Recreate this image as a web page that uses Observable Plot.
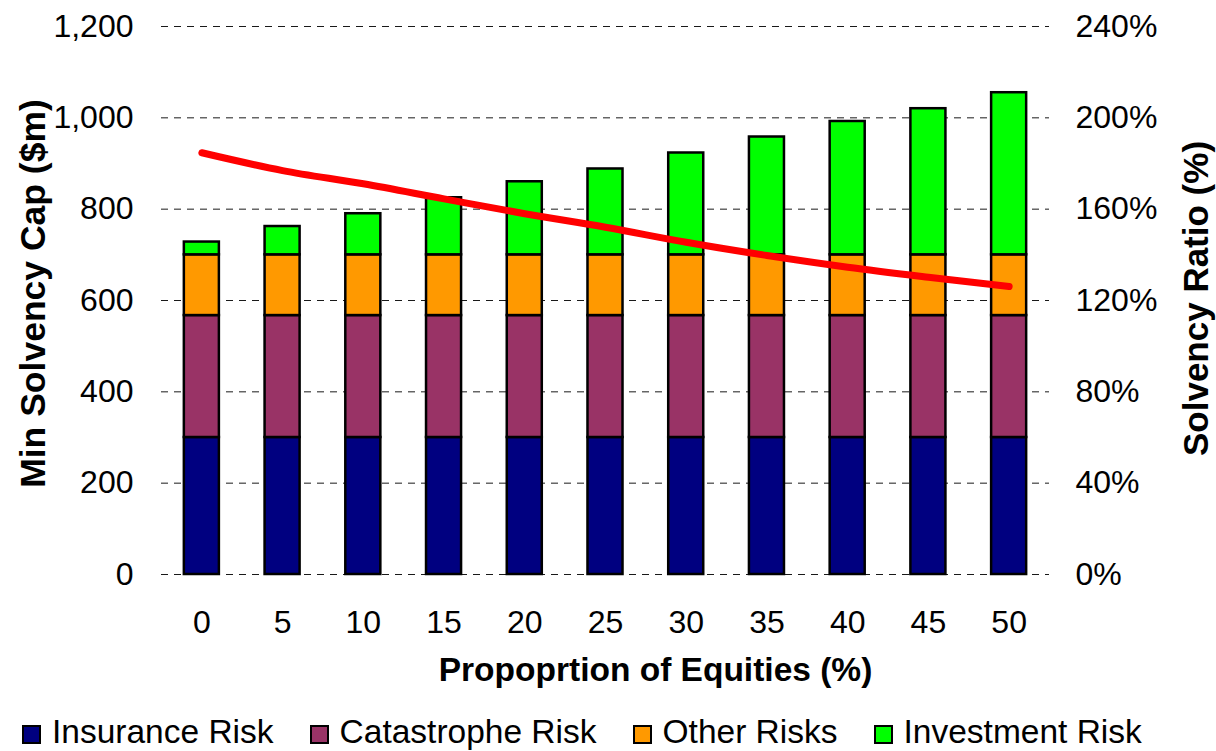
<!DOCTYPE html>
<html>
<head>
<meta charset="utf-8">
<script src="https://cdn.jsdelivr.net/npm/d3@7"></script>
<script src="https://cdn.jsdelivr.net/npm/@observablehq/plot@0.6"></script>
<style>
  html, body { margin: 0; padding: 0; background: #fff; }
  #wrap { position: relative; width: 1216px; height: 751px; font-family: "Liberation Sans", Arial, sans-serif; }
  #legend { position: absolute; left: 22px; top: 715px; display: flex; align-items: flex-start; font-size: 33.5px; line-height: 33px; color: #000; white-space: nowrap; }
  #legend .item { display: flex; align-items: flex-start; margin-right: 36px; }
  #legend .sw { width: 15px; height: 15px; border: 2.5px solid #000; margin-top: 10px; margin-right: 11px; }
</style>
</head>
<body>
<div id="wrap">
  <div id="chart"></div>
  <div id="legend"></div>
</div>
<script>
// ---- data ----
const equities = [0, 5, 10, 15, 20, 25, 30, 35, 40, 45, 50];
const insuranceRisk   = [300, 300, 300, 300, 300, 300, 300, 300, 300, 300, 300];
const catastropheRisk = [267, 267, 267, 267, 267, 267, 267, 267, 267, 267, 267];
const otherRisks      = [133, 133, 133, 133, 133, 133, 133, 133, 133, 133, 133];
const investmentRisk  = [28, 62, 90, 125, 160, 188, 223, 258, 292, 320, 355];
const solvencyRatio   = [184.7, 176.9, 171.1, 164.5, 158.0, 152.1, 145.5, 139.7, 134.6, 130.2, 126.1];

const seriesNames  = ["Insurance Risk", "Catastrophe Risk", "Other Risks", "Investment Risk"];
const seriesColors = ["#000080", "#993366", "#FF9900", "#00FF00"];
const leftTicks  = [0, 200, 400, 600, 800, 1000, 1200];
const ratioPerUnit = 240 / 1200; // right axis 0–240% spans left axis 0–1,200

const xLabel = "Propoprtion of Equities (%)";
const yLabel = "Min Solvency Cap ($m)";
const y2Label = "Solvency Ratio (%)";

// ---- tables built from the arrays ----
const seriesArrays = [insuranceRisk, catastropheRisk, otherRisks, investmentRisk];
const bars = [];
equities.forEach((e, i) => {
  seriesNames.forEach((s, j) => bars.push({eq: String(e), series: s, value: seriesArrays[j][i]}));
});
const ratioData = equities.map((e, i) => ({eq: String(e), ratio: solvencyRatio[i]}));

const FONT = "\"Liberation Sans\", Arial, sans-serif";

const chart = Plot.plot({
  width: 1216,
  height: 705,
  marginTop: 26,
  marginBottom: 131,
  marginLeft: 161,
  marginRight: 167,
  style: {fontFamily: FONT, fontSize: "32px", color: "#000", background: "#fff"},
  x: {domain: equities.map(String), paddingInner: 0.566, paddingOuter: 0.283, align: 0.5, round: false},
  y: {domain: [0, 1200]},
  color: {domain: seriesNames, range: seriesColors},
  marks: [
    Plot.gridY(leftTicks, {stroke: "#000", strokeOpacity: 0.9, strokeWidth: 1, strokeDasharray: "7,6"}),
    Plot.barY(bars, {x: "eq", y: "value", fill: "series", order: seriesNames, stroke: "#000", strokeWidth: 2.5, inset: 0}),
    Plot.line(ratioData, {x: "eq", y: d => d.ratio / ratioPerUnit, stroke: "#FF0000", strokeWidth: 7, curve: "catmull-rom", strokeLinecap: "round", strokeLinejoin: "round"}),
    Plot.axisY(leftTicks, {anchor: "left", tickSize: 0, tickPadding: 28, tickFormat: d3.format(","), label: null}),
    Plot.axisY(leftTicks, {anchor: "right", tickSize: 0, tickPadding: 26, tickFormat: d => Math.round(d * ratioPerUnit) + "%", label: null}),
    Plot.axisX({tickSize: 0, tickPadding: 36, label: null}),
    Plot.text([yLabel], {frameAnchor: "left", dx: -128, dy: -7, rotate: -90, fontWeight: "bold", fontSize: 35.5, textAnchor: "middle", lineAnchor: "middle"}),
    Plot.text([y2Label], {frameAnchor: "right", dx: 147, dy: -2, rotate: -90, fontWeight: "bold", fontSize: 35, textAnchor: "middle", lineAnchor: "middle"}),
    Plot.text([xLabel], {frameAnchor: "bottom", dx: 50, dy: 96, fontWeight: "bold", fontSize: 33.5, textAnchor: "middle", lineAnchor: "middle"})
  ]
});
document.getElementById("chart").appendChild(chart);

const legend = document.getElementById("legend");
seriesNames.forEach((s, i) => {
  const item = document.createElement("div");
  item.className = "item";
  const sw = document.createElement("div");
  sw.className = "sw";
  sw.style.background = seriesColors[i];
  const t = document.createElement("span");
  t.textContent = s;
  item.appendChild(sw);
  item.appendChild(t);
  legend.appendChild(item);
});
</script>
</body>
</html>
